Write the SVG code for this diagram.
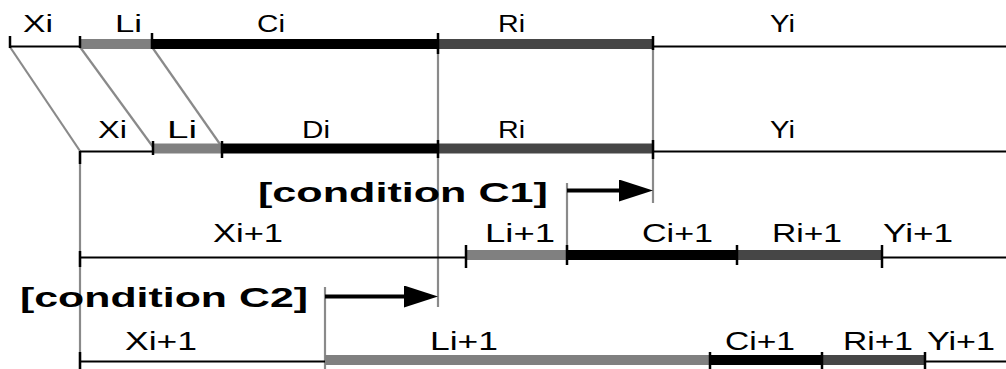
<svg xmlns="http://www.w3.org/2000/svg" width="1006" height="369" viewBox="0 0 1006 369">
<style>
.thin{stroke:#000;stroke-width:2.2;fill:none}
.lg{stroke:#808080;stroke-width:10}
.bk{stroke:#000;stroke-width:10}
.dg{stroke:#464646;stroke-width:10}
.tk{stroke:#000;stroke-width:2.5}
.gl{stroke:#8a8a8a;stroke-width:2.2;fill:none}
.ar{stroke:#000;stroke-width:4}
.t{font-family:"Liberation Sans",Arial,sans-serif;fill:#000}
.r12{font-size:23px}
.r34{font-size:25px}
.cond{font-family:"Liberation Sans",Arial,sans-serif;font-weight:bold;font-size:27px;fill:#000}
</style>
<defs>
<marker id="head" viewBox="0 0 34 22" refX="4" refY="11" markerWidth="34" markerHeight="22" markerUnits="userSpaceOnUse" orient="auto">
<path d="M0,0 L34,11 L0,22 z" fill="#000"/>
</marker>
</defs>
<g id="connectors">
<line class="gl" x1="10" y1="47" x2="80" y2="151"/>
<line class="gl" x1="80" y1="47" x2="153" y2="147"/>
<line class="gl" x1="152" y1="47" x2="222" y2="147"/>
<line class="gl" x1="438" y1="47" x2="438" y2="307"/>
<line class="gl" x1="653" y1="47" x2="653" y2="203"/>
<line class="gl" x1="80" y1="152" x2="80" y2="369"/>
<line class="gl" x1="567" y1="183" x2="567" y2="257"/>
<line class="gl" x1="325" y1="287" x2="325" y2="369"/>
<line class="ar" x1="567" y1="190.5" x2="623" y2="190.5" marker-end="url(#head)"/>
<line class="ar" x1="325" y1="296.5" x2="408" y2="296.5" marker-end="url(#head)"/>
</g>
<g id="row1">
<line class="thin" x1="10" y1="46.5" x2="80" y2="46.5"/>
<line class="lg" x1="80" y1="44" x2="152" y2="44"/>
<line class="bk" x1="152" y1="44" x2="438" y2="44"/>
<line class="dg" x1="438" y1="44" x2="653" y2="44"/>
<line class="thin" x1="653" y1="46.5" x2="1006" y2="46.5"/>
<line class="tk" x1="10" y1="36" x2="10" y2="48"/>
<line class="tk" x1="80" y1="36" x2="80" y2="48"/>
<line class="tk" x1="152" y1="33" x2="152" y2="49"/>
<line class="tk" x1="438" y1="33" x2="438" y2="54"/>
<line class="tk" x1="653" y1="36" x2="653" y2="50"/>
<text class="t r12" x="23" y="31.5" textLength="30" lengthAdjust="spacingAndGlyphs">Xi</text>
<text class="t r12" x="115" y="31.5" textLength="27" lengthAdjust="spacingAndGlyphs">Li</text>
<text class="t r12" x="257" y="31.5" textLength="28" lengthAdjust="spacingAndGlyphs">Ci</text>
<text class="t r12" x="498" y="31.5" textLength="27" lengthAdjust="spacingAndGlyphs">Ri</text>
<text class="t r12" x="770" y="31.5" textLength="25" lengthAdjust="spacingAndGlyphs">Yi</text>
</g>
<g id="row2">
<line class="thin" x1="80" y1="151.5" x2="153" y2="151.5"/>
<line class="lg" x1="153" y1="148.5" x2="222" y2="148.5"/>
<line class="bk" x1="222" y1="148.5" x2="438" y2="148.5"/>
<line class="dg" x1="438" y1="148.5" x2="653" y2="148.5"/>
<line class="thin" x1="653" y1="151.5" x2="1006" y2="151.5"/>
<line class="tk" x1="80" y1="151" x2="80" y2="164"/>
<line class="tk" x1="153" y1="141" x2="153" y2="155"/>
<line class="tk" x1="222" y1="141" x2="222" y2="158"/>
<line class="tk" x1="438" y1="140" x2="438" y2="158"/>
<line class="tk" x1="653" y1="140" x2="653" y2="159"/>
<text class="t r12" x="98" y="138.3" textLength="29" lengthAdjust="spacingAndGlyphs">Xi</text>
<text class="t r12" x="167" y="138.3" textLength="30" lengthAdjust="spacingAndGlyphs">Li</text>
<text class="t r12" x="302" y="138.3" textLength="28" lengthAdjust="spacingAndGlyphs">Di</text>
<text class="t r12" x="498" y="138.3" textLength="27" lengthAdjust="spacingAndGlyphs">Ri</text>
<text class="t r12" x="770" y="138.3" textLength="25" lengthAdjust="spacingAndGlyphs">Yi</text>
</g>
<g id="condition-c1">
<text class="cond" x="258" y="201.5" textLength="290" lengthAdjust="spacingAndGlyphs">[condition C1]</text>
</g>
<g id="row3">
<line class="thin" x1="80" y1="257.5" x2="466" y2="257.5"/>
<line class="lg" x1="466" y1="255" x2="567" y2="255"/>
<line class="bk" x1="567" y1="255" x2="737" y2="255"/>
<line class="dg" x1="737" y1="255" x2="882" y2="255"/>
<line class="thin" x1="882" y1="257.5" x2="1006" y2="257.5"/>
<line class="tk" x1="80" y1="251" x2="80" y2="267"/>
<line class="tk" x1="466" y1="245" x2="466" y2="268"/>
<line class="tk" x1="567" y1="245" x2="567" y2="265"/>
<line class="tk" x1="737" y1="245" x2="737" y2="265"/>
<line class="tk" x1="882" y1="245" x2="882" y2="268"/>
<text class="t r34" x="213" y="241.7" textLength="70" lengthAdjust="spacingAndGlyphs">Xi+1</text>
<text class="t r34" x="485" y="241.7" textLength="70" lengthAdjust="spacingAndGlyphs">Li+1</text>
<text class="t r34" x="642" y="241.7" textLength="71" lengthAdjust="spacingAndGlyphs">Ci+1</text>
<text class="t r34" x="772" y="241.7" textLength="70" lengthAdjust="spacingAndGlyphs">Ri+1</text>
<text class="t r34" x="883" y="241.7" textLength="70" lengthAdjust="spacingAndGlyphs">Yi+1</text>
</g>
<g id="condition-c2">
<text class="cond" x="20" y="306.5" textLength="288" lengthAdjust="spacingAndGlyphs">[condition C2]</text>
</g>
<g id="row4">
<line class="thin" x1="80" y1="361.5" x2="325" y2="361.5"/>
<line class="lg" x1="325" y1="360" x2="710" y2="360"/>
<line class="bk" x1="710" y1="360" x2="822" y2="360"/>
<line class="dg" x1="822" y1="360" x2="925" y2="360"/>
<line class="thin" x1="925" y1="361.5" x2="1006" y2="361.5"/>
<line class="tk" x1="80" y1="352" x2="80" y2="369"/>
<line class="tk" x1="710" y1="352" x2="710" y2="369"/>
<line class="tk" x1="822" y1="352" x2="822" y2="369"/>
<line class="tk" x1="925" y1="352" x2="925" y2="369"/>
<text class="t r34" x="125" y="350" textLength="72" lengthAdjust="spacingAndGlyphs">Xi+1</text>
<text class="t r34" x="430" y="350" textLength="68" lengthAdjust="spacingAndGlyphs">Li+1</text>
<text class="t r34" x="725" y="350" textLength="70" lengthAdjust="spacingAndGlyphs">Ci+1</text>
<text class="t r34" x="843" y="350" textLength="70" lengthAdjust="spacingAndGlyphs">Ri+1</text>
<text class="t r34" x="927" y="350" textLength="68" lengthAdjust="spacingAndGlyphs">Yi+1</text>
</g>
</svg>
